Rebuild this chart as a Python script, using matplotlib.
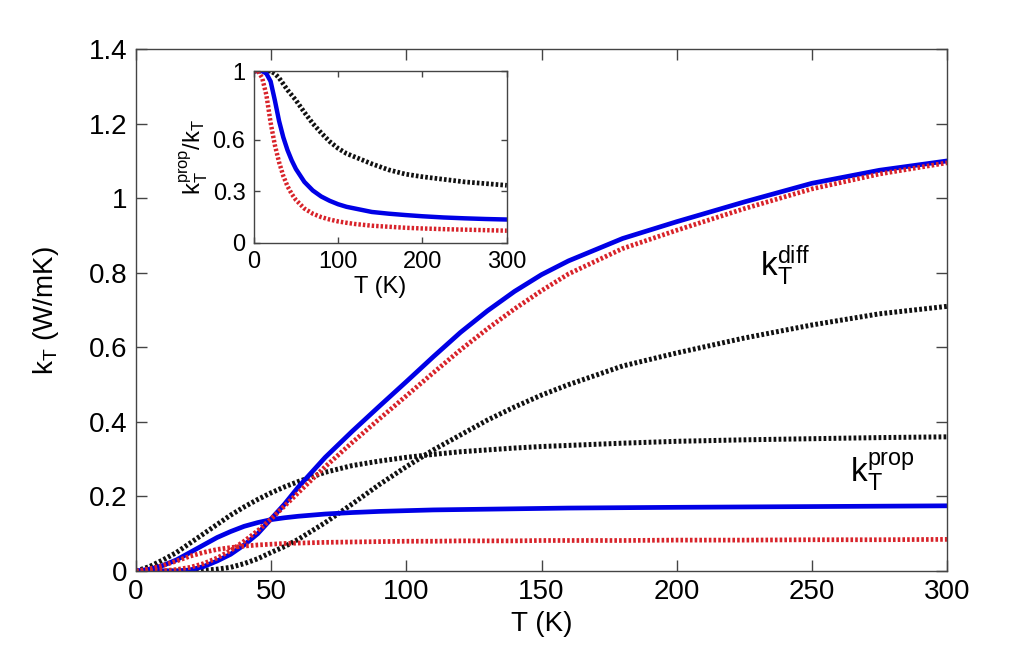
import matplotlib
matplotlib.use('Agg')
import matplotlib.pyplot as plt

plt.rcParams['font.family'] = ['Liberation Sans', 'DejaVu Sans']
plt.rcParams['mathtext.fontset'] = 'custom'
plt.rcParams['mathtext.rm'] = 'Liberation Sans'

#main plot data (T in K, k in W/mK):
T = [0, 5, 10, 15, 20, 25, 30, 35, 40, 45, 50, 55, 60, 70, 80, 90, 100, 110, 120, 130, 140, 150, 160, 180, 200, 225, 250, 275, 300]
blue_diff = [0, 0, 0, 0, 0.003, 0.012, 0.027, 0.045, 0.07, 0.1, 0.14, 0.18, 0.225, 0.305, 0.375, 0.442, 0.508, 0.575, 0.64, 0.698, 0.75, 0.795, 0.832, 0.892, 0.937, 0.99, 1.04, 1.075, 1.10]
red_diff = [0, 0, 0.001, 0.004, 0.01, 0.02, 0.035, 0.055, 0.08, 0.108, 0.14, 0.175, 0.21, 0.28, 0.345, 0.408, 0.47, 0.532, 0.593, 0.65, 0.703, 0.752, 0.797, 0.865, 0.914, 0.972, 1.025, 1.065, 1.095]
black_diff = [0, 0, 0, 0, 0, 0.002, 0.005, 0.01, 0.02, 0.033, 0.05, 0.066, 0.085, 0.13, 0.18, 0.232, 0.28, 0.325, 0.365, 0.405, 0.44, 0.472, 0.50, 0.55, 0.585, 0.625, 0.66, 0.69, 0.71]
black_prop = [0, 0.012, 0.03, 0.05, 0.075, 0.1, 0.125, 0.15, 0.172, 0.192, 0.21, 0.226, 0.24, 0.265, 0.283, 0.295, 0.305, 0.313, 0.32, 0.325, 0.33, 0.334, 0.337, 0.343, 0.348, 0.352, 0.355, 0.358, 0.36]
blue_prop = [0, 0.005, 0.015, 0.03, 0.05, 0.07, 0.09, 0.106, 0.12, 0.13, 0.138, 0.143, 0.147, 0.153, 0.157, 0.16, 0.162, 0.164, 0.165, 0.166, 0.167, 0.168, 0.169, 0.17, 0.171, 0.172, 0.173, 0.174, 0.175]
red_prop = [0, 0.006, 0.015, 0.027, 0.04, 0.05, 0.058, 0.063, 0.067, 0.07, 0.072, 0.074, 0.075, 0.077, 0.078, 0.079, 0.08, 0.08, 0.081, 0.081, 0.081, 0.082, 0.082, 0.082, 0.083, 0.083, 0.084, 0.084, 0.085]

#inset data (kprop/k):
T_in = [0, 5, 10, 15, 20, 25, 30, 35, 40, 45, 50, 60, 70, 80, 90, 100, 110, 120, 140, 160, 180, 200, 225, 250, 275, 300]
black_ratio = [1, 1, 1, 1, 1, 0.985, 0.96, 0.925, 0.89, 0.86, 0.83, 0.76, 0.695, 0.64, 0.59, 0.55, 0.52, 0.50, 0.46, 0.425, 0.40, 0.385, 0.37, 0.355, 0.345, 0.335]
blue_ratio = [1, 1, 1, 0.985, 0.94, 0.83, 0.71, 0.615, 0.54, 0.48, 0.43, 0.355, 0.305, 0.27, 0.245, 0.225, 0.21, 0.20, 0.18, 0.17, 0.162, 0.155, 0.148, 0.143, 0.139, 0.136]
red_ratio = [1, 1, 0.96, 0.86, 0.70, 0.57, 0.47, 0.39, 0.33, 0.285, 0.25, 0.20, 0.17, 0.15, 0.136, 0.125, 0.117, 0.11, 0.10, 0.094, 0.088, 0.084, 0.08, 0.077, 0.074, 0.071]

xticks = [0, 50, 100, 150, 200, 250, 300]
yticks = [0, 0.2, 0.4, 0.6, 0.8, 1, 1.2, 1.4]
ytick_labels = ['0', '0.2', '0.4', '0.6', '0.8', '1', '1.2', '1.4']
in_xticks = [0, 100, 200, 300]
in_yticks = [0, 0.3, 0.6, 1]
in_ytick_labels = ['0', '0.3', '0.6', '1']

BLUE = '#0000e6'
RED = '#d8232a'
BLACK = '#111111'
DOT = (0, (0.55, 0.45))
AXC = '#444444'


def style_axes(ax, fs, tlen):
    for s in ax.spines.values():
        s.set_color(AXC)
        s.set_linewidth(1.0)
    ax.tick_params(direction='in', top=True, right=True, length=tlen, width=1.0,
                   color=AXC, labelsize=fs, pad=6)


fig = plt.figure(figsize=(10.15, 6.46), dpi=100)

#main axes:
ax = fig.add_axes([0.134, 0.116, 0.799, 0.808])
ax.plot(T, black_diff, color=BLACK, linestyle=DOT, linewidth=3.6)
ax.plot(T, black_prop, color=BLACK, linestyle=DOT, linewidth=3.6)
ax.plot(T, blue_diff, color=BLUE, linewidth=3.4)
ax.plot(T, blue_prop, color=BLUE, linewidth=3.4)
ax.plot(T, red_diff, color=RED, linestyle=DOT, linewidth=3.4)
ax.plot(T, red_prop, color=RED, linestyle=DOT, linewidth=3.4)
ax.set_xlim(0, 300)
ax.set_ylim(0, 1.4)
ax.set_xticks(xticks)
ax.set_yticks(yticks)
ax.set_yticklabels(ytick_labels)
style_axes(ax, 20, 8)
ax.set_xlabel('T (K)', fontsize=20, labelpad=4)
ax.set_ylabel(r'$\mathregular{k_T}$ (W/mK)', fontsize=20, labelpad=20)
ax.text(231, 0.82, r'$\mathregular{k_T^{diff}}$', fontsize=24, ha='left', va='center')
ax.text(264, 0.268, r'$\mathregular{k_T^{prop}}$', fontsize=24, ha='left', va='center')

#inset:
ins = fig.add_axes([0.250, 0.624, 0.2493, 0.266])
ins.plot(T_in, black_ratio, color=BLACK, linestyle=DOT, linewidth=3.4)
ins.plot(T_in, blue_ratio, color=BLUE, linewidth=3.2)
ins.plot(T_in, red_ratio, color=RED, linestyle=DOT, linewidth=3.2)
ins.set_xlim(0, 300)
ins.set_ylim(0, 1)
ins.set_xticks(in_xticks)
ins.set_yticks(in_yticks)
ins.set_yticklabels(in_ytick_labels)
style_axes(ins, 17, 4)
ins.set_xlabel('T (K)', fontsize=17, labelpad=2)
ins.set_ylabel(r'$\mathregular{k_T^{prop}/k_T}$', fontsize=17, labelpad=2)

plt.savefig('out.png', dpi=100)
